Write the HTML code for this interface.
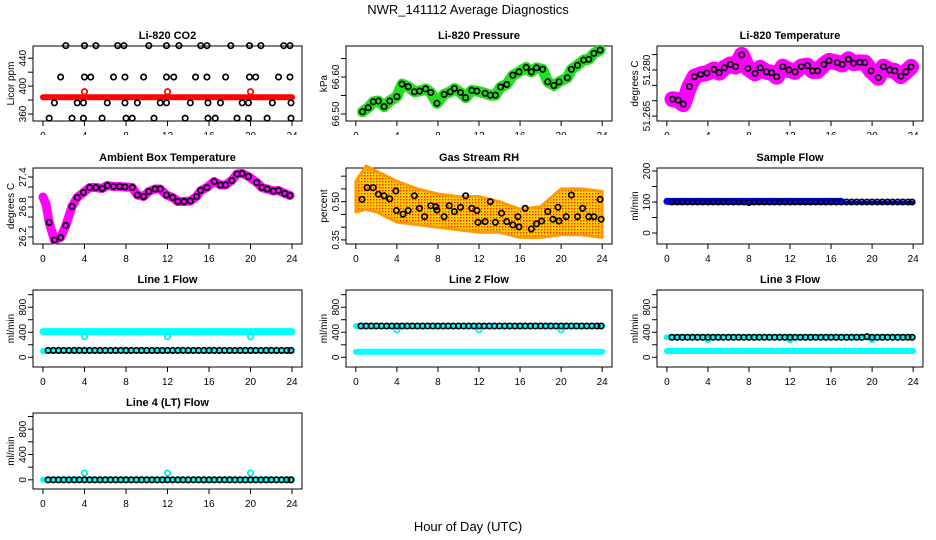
<!DOCTYPE html>
<html><head><meta charset="utf-8"><style>
html,body{margin:0;padding:0;background:#fff}
svg{display:block}
text{font-family:"Liberation Sans",Arial,sans-serif}
</style></head>
<body>
<svg id="chart" width="936" height="540" viewBox="0 0 936 540" xmlns="http://www.w3.org/2000/svg">
<defs>
<pattern id="rhpat" width="3" height="3" patternUnits="userSpaceOnUse"><rect width="3" height="3" fill="#ffd000"/><rect x="1" y="1" width="1.4" height="1.4" fill="#ff2000"/></pattern>
<clipPath id="row1clip"><rect x="0" y="0" width="936" height="135"/></clipPath>
</defs>
<text x="468" y="14" text-anchor="middle" font-size="13">NWR_141112  Average Diagnostics</text>
<text x="468" y="531" text-anchor="middle" font-size="13">Hour of Day (UTC)</text>
</svg>
<script>
// ---- data ----
const xTicks = [0,4,8,12,16,20,24];
// CO2
const co2BlackHours = [2.2,4.0,5.1,7.2,7.8,10.2,11.9,13.1,15.2,15.8,18.1,19.9,21.0,23.2,23.8, 1.7,4.0,4.6,6.8,7.9,9.7,11.9,12.6,14.7,15.8,17.6,19.9,20.5,22.7,23.8, 1.1,3.3,3.9,6.2,7.9,9.1,11.3,11.9,14.2,15.9,17.1,19.2,19.8,22.1,23.9, 0.6,2.8,3.9,5.7,8.0,8.6,10.7,13.7,15.9,16.6,18.7,19.8,21.6,23.9];
const co2BlackValues = [458,458,458,458,458,458,458,458,458,458,458,458,458,458,458, 413,413,413,413,413,413,413,413,413,413,413,413,413,413,413, 376,376,376,376,376,376,376,376,376,376,376,376,376,376,376, 354,354,354,354,354,354,354,354,354,354,354,354,354,354];
const co2BandHours = [0,24];
const co2BandValues = [384,384];
const co2RedHours = [4,12,20];
const co2RedValues = [392,392,392];
// Pressure
const presHours = [0.65,1.2,1.7,2.2,2.75,3.3,4.0,4.5,5.1,5.7,6.2,6.8,7.3,7.9,8.6,9.2,9.6,10.2,10.7,11.3,11.8,12.6,13.1,13.6,14.1,14.7,15.3,15.9,16.6,17.1,17.6,18.2,18.7,19.3,19.8,20.6,21.0,21.6,22.2,22.7,23.2,23.8];
const presValues = [66.506,66.517,66.533,66.535,66.520,66.535,66.547,66.581,66.574,66.560,66.562,66.568,66.558,66.529,66.553,66.560,66.569,66.558,66.544,66.564,66.562,66.556,66.551,66.551,66.573,66.580,66.605,66.614,66.626,66.614,66.625,66.621,66.587,66.577,66.587,66.598,66.621,66.632,66.646,66.648,66.664,66.673];
// Li-820 temperature
const tempHours = [0.55,1.1,1.6,2.2,2.7,3.3,3.9,4.6,5.1,5.6,6.2,6.7,7.3,7.9,8.6,9.1,9.7,10.2,10.7,11.3,11.9,12.5,13.1,13.7,14.2,14.7,15.3,15.8,16.6,17.1,17.7,18.2,18.8,19.3,19.9,20.6,21.1,21.7,22.2,22.8,23.3,23.8];
const tempValues = [51.2705,51.2702,51.2689,51.2746,51.2778,51.2786,51.2790,51.2802,51.2791,51.2807,51.2818,51.2811,51.2849,51.2805,51.2789,51.2807,51.2794,51.2791,51.2778,51.2811,51.2800,51.2794,51.2811,51.2814,51.2797,51.2797,51.2818,51.2830,51.2824,51.2818,51.2835,51.2822,51.2825,51.2824,51.2797,51.2775,51.2811,51.2800,51.2797,51.2780,51.2794,51.2810];
// Ambient box temperature
const ambHours = [0.6,1.1,1.7,2.2,2.8,3.3,3.9,4.5,5.1,5.7,6.2,6.8,7.4,7.9,8.6,9.1,9.7,10.2,10.8,11.3,11.9,12.5,13.0,13.6,14.2,14.8,15.2,15.8,16.5,17.1,17.6,18.2,18.7,19.2,19.8,20.6,21.1,21.6,22.2,22.7,23.3,23.8];
const ambValues = [26.49,26.14,26.19,26.43,26.81,26.99,27.09,27.19,27.19,27.17,27.23,27.21,27.21,27.20,27.19,27.04,27.01,27.11,27.16,27.16,27.04,26.99,26.91,26.91,26.92,27.01,27.13,27.19,27.31,27.24,27.24,27.33,27.46,27.47,27.41,27.29,27.19,27.16,27.12,27.13,27.07,27.03];
const ambBandHours = [0,0.3,0.6,1.1,1.7,2.2,2.8,3.3,3.9,4.5,5.1,5.7,6.2,6.8,7.4,7.9,8.6,9.1,9.7,10.2,10.8,11.3,11.9,12.5,13.0,13.6,14.2,14.8,15.2,15.8,16.5,17.1,17.6,18.2,18.7,19.2,19.8,20.6,21.1,21.6,22.2,22.7,23.3,23.8];
const ambBandValues = [27.00,26.85,26.49,26.14,26.19,26.43,26.81,26.99,27.09,27.19,27.19,27.17,27.23,27.21,27.21,27.20,27.19,27.04,27.01,27.11,27.16,27.16,27.04,26.99,26.91,26.91,26.92,27.01,27.13,27.19,27.31,27.24,27.24,27.33,27.46,27.47,27.41,27.29,27.19,27.16,27.12,27.13,27.07,27.03];
// Gas stream RH
const rhHours = [0.6,1.1,1.7,2.2,2.75,3.3,3.9,3.95,4.6,5.1,5.7,6.2,6.7,7.3,7.8,7.9,8.6,9.1,9.6,10.2,10.7,11.3,11.8,11.9,12.6,13.1,13.6,14.2,14.7,15.3,15.8,15.9,16.5,17.1,17.6,18.1,18.7,19.2,19.7,19.8,20.5,21.0,21.6,22.1,22.7,23.2,23.8,23.9];
const rhValues = [0.509,0.555,0.555,0.529,0.523,0.511,0.542,0.465,0.451,0.465,0.523,0.474,0.441,0.484,0.480,0.467,0.441,0.484,0.461,0.478,0.523,0.474,0.465,0.419,0.422,0.500,0.419,0.455,0.422,0.409,0.441,0.401,0.474,0.393,0.413,0.424,0.461,0.431,0.478,0.424,0.441,0.526,0.441,0.474,0.441,0.441,0.509,0.431];
const rhCloudHours = [0,1,2,4,6,8,10,12,14,16,18,20,22,24];
const rhCloudUpper = [0.58,0.64,0.62,0.58,0.55,0.53,0.52,0.52,0.50,0.47,0.48,0.55,0.55,0.54];
const rhCloudLower = [0.46,0.47,0.46,0.42,0.41,0.40,0.39,0.38,0.38,0.36,0.36,0.37,0.37,0.36];
// Flows (black half-hourly averages)
const flowHours = [0.5,1,1.5,2,2.5,3,3.5,4,4.5,5,5.5,6,6.5,7,7.5,8,8.5,9,9.5,10,10.5,11,11.5,12,12.5,13,13.5,14,14.5,15,15.5,16,16.5,17,17.5,18,18.5,19,19.5,20,20.5,21,21.5,22,22.5,23,23.5,23.9];
const sampleFlowValues = [100,100,100,100,100,100,100,100,100,100,100,100,100,100,100,98,100,100,100,100,100,100,100,100,100,100,100,100,100,100,100,100,100,100,100,100,100,100,100,100,100,100,100,100,100,100,100,100];
const line1Values = [110,110,110,110,110,110,110,110,110,110,110,110,110,110,110,110,110,110,110,110,110,110,110,110,110,110,110,110,110,110,110,110,110,110,110,110,110,110,110,110,110,110,110,110,110,110,110,110];
const line2Values = [500,500,500,500,500,500,500,500,500,500,500,500,500,500,500,500,500,500,500,500,500,500,500,500,500,500,500,500,500,500,500,500,500,500,500,500,500,500,500,500,500,500,500,500,500,500,500,500];
const line3Values = [320,320,320,320,320,320,320,320,320,320,320,320,320,320,320,320,320,320,320,320,320,320,320,320,320,320,320,320,320,320,320,320,320,320,320,320,320,320,330,320,320,320,320,320,320,320,320,320];
const line4Values = [0,0,0,0,0,0,0,0,0,0,0,0,0,0,0,0,0,0,0,0,0,0,0,0,0,0,0,0,0,0,0,0,0,0,0,0,0,0,0,0,0,0,0,0,0,0,0,0];
const cyanBandHours = [0,24];
const sampleBlueHours = [0,17];
const sampleBlueValues = [102,102];
const sampleBlueThinHours = [17,24];
const sampleBlueThinValues = [98,98];
const line1CyanHigh = [410,410];
const line1CyanLow = [100,100];
const line2CyanHigh = [500,500];
const line2CyanLow = [90,90];
const line3CyanHigh = [320,320];
const line3CyanLow = [100,100];
const line4CyanLow = [0,0];
const dipHours = [4,12,20];
const line1Dips = [330,330,330];
const line2Dips = [440,440,440];
const line3Dips = [285,285,285];
const line4Dips = [107,107,107];

// ---- drawing ----
const svg = document.getElementById('chart');
const NS = 'http://www.w3.org/2000/svg';
function mk(tag, attrs, parent){
  const e = document.createElementNS(NS, tag);
  for (const k in attrs) e.setAttribute(k, attrs[k]);
  (parent||svg).appendChild(e);
  return e;
}
const cols = [{l:33,r:302},{l:346,r:612},{l:657,r:923}];
const rows = [{t:46,b:121},{t:168,b:244},{t:290,b:367},{t:413,b:489}];

function makePanel(name, col, row, title, ylab, ymin, ymax, yticks, ylabels){
  const c = cols[col], r = rows[row];
  const g = mk('g', {});
  
  
  const xs = h => c.l + (h + 0.96) / 25.92 * (c.r - c.l);
  const ys = v => r.b - (v - ymin) / (ymax - ymin) * (r.b - r.t);
  const t = mk('text', {x:(c.l+c.r)/2, y:r.t-7, 'text-anchor':'middle', 'font-size':'11', 'font-weight':'bold'}, g);
  t.textContent = title;
  
  
  const yl = mk('text', {transform:`translate(${c.l-19},${(r.t+r.b)/2}) rotate(-90)`, 'text-anchor':'middle', 'font-size':'10'}, g);
  yl.textContent = ylab;
  
  
  const box = mk('rect', {x:c.l, y:r.t, width:c.r-c.l, height:r.b-r.t, fill:'none', stroke:'#000', 'stroke-width':1}, g);
  
  
  const xa = mk('g', {}, g);
  
  
  if (row === 0) xa.setAttribute('clip-path', 'url(#row1clip)');
  xTicks.forEach(v => {
    mk('line', {x1:xs(v), x2:xs(v), y1:r.b, y2:r.b+5, stroke:'#000'}, xa);
    const tl = mk('text', {x:xs(v), y:r.b+18, 'text-anchor':'middle', 'font-size':'10'}, xa);
    tl.textContent = v;
    
    
  });
  const ya = mk('g', {}, g);
  
  
  yticks.forEach(v => {
    mk('line', {x1:c.l, x2:c.l-5, y1:ys(v), y2:ys(v), stroke:'#000'}, ya);
  });
  ylabels.forEach(v => {
    const tl = mk('text', {transform:`translate(${c.l-7},${ys(v)}) rotate(-90)`, 'text-anchor':'middle', 'font-size':'10'}, ya);
    tl.textContent = v;
    
    
  });
  const marks = mk('g', {}, g);
  
  
  return {g:marks, xs, ys};
}
function band(p, hours, vals, color, width, name){
  const pts = hours.map((h,i)=>p.xs(h).toFixed(1)+','+p.ys(vals[i]).toFixed(1)).join(' ');
  const e = mk('polyline', {points:pts, fill:'none', stroke:color, 'stroke-width':width, 'stroke-linejoin':'round', 'stroke-linecap':'round'}, p.g);
  
  
}
function circles(p, hours, vals, color, name){
  hours.forEach((h,i)=>{
    const e = mk('circle', {cx:p.xs(h), cy:p.ys(vals[i]), r:2.7, fill:'none', stroke:color, 'stroke-width':1.7}, p.g);
    
    
  });
}
function cloud(p, hours, up, lo, fill, name){
  const a = hours.map((h,i)=>p.xs(h).toFixed(1)+','+p.ys(up[i]).toFixed(1));
  const b = hours.map((h,i)=>p.xs(h).toFixed(1)+','+p.ys(lo[i]).toFixed(1)).reverse();
  const e = mk('polygon', {points:a.concat(b).join(' '), fill:fill, stroke:'#ff9900', 'stroke-width':3, 'stroke-linejoin':'round'}, p.g);
  
  
}

// CO2
let p = makePanel('co2-panel',0,0,'Li-820 CO2','Licor ppm',350,457.5,[360,380,400,420,440],[360,400,440]);
band(p, co2BandHours, co2BandValues, '#ff0000', 6, 'co2-raw-band');
circles(p, co2RedHours, co2RedValues, '#ff0000', 'co2-red-point');
circles(p, co2BlackHours, co2BlackValues, '#000', 'co2-average-point');
// Pressure
p = makePanel('pressure-panel',1,0,'Li-820 Pressure','kPa',66.481,66.684,[66.50,66.55,66.60,66.65],['66.50','66.60']);
band(p, presHours, presValues, '#22e01a', 11, 'pressure-raw-band');
circles(p, presHours, presValues, '#000', 'pressure-average-point');
// Temperature
p = makePanel('li820-temp-panel',2,0,'Li-820 Temperature','degrees C',51.2634,51.2878,[51.265,51.270,51.275,51.280,51.285],['51.265','51.280']);
band(p, tempHours, tempValues, '#ff00ff', 16, 'temp-raw-band');
circles(p, tempHours, tempValues, '#000', 'temp-average-point');
// Ambient
p = makePanel('ambient-temp-panel',0,1,'Ambient Box Temperature','degrees C',26.06,27.58,[26.2,26.4,26.6,26.8,27.0,27.2,27.4],['26.2','26.8','27.4']);
band(p, ambBandHours, ambBandValues, '#ff00ff', 9, 'ambient-raw-band');
circles(p, ambHours, ambValues, '#000', 'ambient-average-point');
// RH
p = makePanel('rh-panel',1,1,'Gas Stream RH','percent',0.334,0.632,[0.35,0.40,0.45,0.50,0.55,0.60],['0.35','0.50']);
cloud(p, rhCloudHours, rhCloudUpper, rhCloudLower, 'url(#rhpat)', 'rh-raw-cloud');
circles(p, rhHours, rhValues, '#000', 'rh-average-point');
// Sample flow
p = makePanel('sample-flow-panel',2,1,'Sample Flow','ml/min',-35.5,209.7,[0,50,100,150,200],[0,100,200]);
band(p, sampleBlueHours, sampleBlueValues, '#0000ff', 7, 'sample-flow-raw-band');
band(p, sampleBlueThinHours, sampleBlueThinValues, '#0000ff', 4, 'sample-flow-raw-band-thin');
circles(p, flowHours, sampleFlowValues, '#000', 'sample-flow-average-point');
// Line flows
const fT = [0,200,400,600,800,1000], fL = [0,400,800];
p = makePanel('line1-flow-panel',0,2,'Line 1 Flow','ml/min',-155,1075,fT,fL);
band(p, cyanBandHours, line1CyanHigh, '#00ffff', 7, 'line1-raw-band');
band(p, cyanBandHours, line1CyanLow, '#00ffff', 6, 'line1-raw-low-band');
circles(p, dipHours, line1Dips, '#00e8e8', 'line1-dip-point');
circles(p, flowHours, line1Values, '#000', 'line1-average-point');
p = makePanel('line2-flow-panel',1,2,'Line 2 Flow','ml/min',-155,1075,fT,fL);
band(p, cyanBandHours, line2CyanHigh, '#00ffff', 6, 'line2-raw-band');
band(p, cyanBandHours, line2CyanLow, '#00ffff', 6, 'line2-raw-low-band');
circles(p, dipHours, line2Dips, '#00e8e8', 'line2-dip-point');
circles(p, flowHours, line2Values, '#000', 'line2-average-point');
p = makePanel('line3-flow-panel',2,2,'Line 3 Flow','ml/min',-155,1075,fT,fL);
band(p, cyanBandHours, line3CyanHigh, '#00ffff', 6, 'line3-raw-band');
band(p, cyanBandHours, line3CyanLow, '#00ffff', 6, 'line3-raw-low-band');
circles(p, dipHours, line3Dips, '#00e8e8', 'line3-dip-point');
circles(p, flowHours, line3Values, '#000', 'line3-average-point');
p = makePanel('line4-flow-panel',0,3,'Line 4 (LT) Flow','ml/min',-145,1055,fT,fL);
band(p, cyanBandHours, line4CyanLow, '#00ffff', 6, 'line4-raw-band');
circles(p, dipHours, line4Dips, '#00e8e8', 'line4-dip-point');
circles(p, flowHours, line4Values, '#000', 'line4-average-point');
</script>
</body></html>
